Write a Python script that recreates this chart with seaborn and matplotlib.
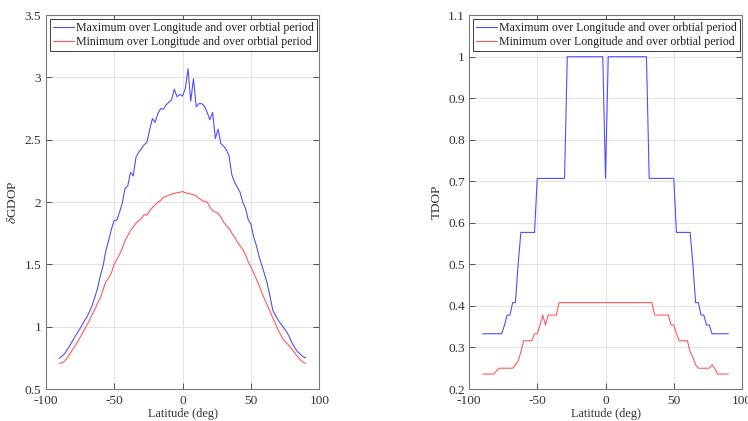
import numpy as np
import pandas as pd
import matplotlib
matplotlib.use("Agg")
import matplotlib.pyplot as plt
import seaborn as sns

# Latitude grid (deg), 2-degree spacing from -90 to 90
latitude = list(range(-90, 91, 2))

# delta-GDOP: maximum / minimum over longitude and orbital period
dgdop_max = [
    0.746, 0.765, 0.785, 0.82, 0.855, 0.893, 0.93, 0.965, 1.00, 1.04,
    1.075, 1.12, 1.17, 1.24, 1.31, 1.41, 1.49, 1.61, 1.69, 1.78,
    1.85, 1.855, 1.92, 1.99, 2.11, 2.13, 2.24, 2.21, 2.36, 2.40,
    2.43, 2.46, 2.48, 2.58, 2.67, 2.64, 2.71, 2.75, 2.745, 2.78,
    2.80, 2.82, 2.906, 2.845, 2.865, 2.85, 2.91, 3.07, 2.81, 2.99,
    2.765, 2.79, 2.79, 2.77, 2.72, 2.66, 2.72, 2.51, 2.585, 2.47,
    2.45, 2.42, 2.37, 2.22, 2.16, 2.12, 2.08, 2.00, 1.95, 1.86,
    1.82, 1.72, 1.65, 1.56, 1.49, 1.42, 1.34, 1.24, 1.13, 1.09,
    1.05, 1.02, 0.99, 0.96, 0.92, 0.87, 0.83, 0.80, 0.78, 0.76,
    0.75,
]
dgdop_min = [
    0.706, 0.71, 0.725, 0.755, 0.786, 0.82, 0.855, 0.89, 0.93, 0.97,
    1.01, 1.05, 1.10, 1.14, 1.19, 1.23, 1.30, 1.36, 1.39, 1.43,
    1.50, 1.54, 1.58, 1.63, 1.69, 1.73, 1.77, 1.80, 1.83, 1.85,
    1.87, 1.90, 1.895, 1.93, 1.955, 1.98, 2.00, 2.01, 2.04, 2.045,
    2.055, 2.064, 2.07, 2.075, 2.078, 2.085, 2.075, 2.07, 2.065, 2.058,
    2.05, 2.03, 2.016, 2.005, 2.0, 1.96, 1.93, 1.92, 1.91, 1.88,
    1.84, 1.81, 1.79, 1.75, 1.72, 1.68, 1.65, 1.62, 1.58, 1.52,
    1.48, 1.43, 1.38, 1.33, 1.27, 1.22, 1.17, 1.12, 1.07, 1.02,
    0.97, 0.93, 0.89, 0.87, 0.845, 0.82, 0.79, 0.76, 0.735, 0.715,
    0.706,
]

# TDOP: maximum / minimum over longitude and orbital period
tdop_max = [
    0.333, 0.333, 0.333, 0.333, 0.333, 0.333, 0.333, 0.333, 0.354, 0.378,
    0.378, 0.408, 0.408, 0.500, 0.577, 0.577, 0.577, 0.577, 0.577, 0.577,
    0.707, 0.707, 0.707, 0.707, 0.707, 0.707, 0.707, 0.707, 0.707, 0.707,
    0.707, 1.0, 1.0, 1.0, 1.0, 1.0, 1.0, 1.0, 1.0, 1.0,
    1.0, 1.0, 1.0, 1.0, 1.0, 0.707, 1.0, 1.0, 1.0, 1.0,
    1.0, 1.0, 1.0, 1.0, 1.0, 1.0, 1.0, 1.0, 1.0, 1.0,
    1.0, 0.707, 0.707, 0.707, 0.707, 0.707, 0.707, 0.707, 0.707, 0.707,
    0.707, 0.577, 0.577, 0.577, 0.577, 0.577, 0.577, 0.500, 0.408, 0.408,
    0.378, 0.378, 0.354, 0.354, 0.333, 0.333, 0.333, 0.333, 0.333, 0.333,
    0.333,
]
tdop_min = [
    0.236, 0.236, 0.236, 0.236, 0.236, 0.243, 0.25, 0.25, 0.25, 0.25,
    0.25, 0.25, 0.258, 0.267, 0.289, 0.316, 0.316, 0.316, 0.316, 0.333,
    0.333, 0.354, 0.378, 0.354, 0.378, 0.378, 0.378, 0.378, 0.408, 0.408,
    0.408, 0.408, 0.408, 0.408, 0.408, 0.408, 0.408, 0.408, 0.408, 0.408,
    0.408, 0.408, 0.408, 0.408, 0.408, 0.408, 0.408, 0.408, 0.408, 0.408,
    0.408, 0.408, 0.408, 0.408, 0.408, 0.408, 0.408, 0.408, 0.408, 0.408,
    0.408, 0.408, 0.408, 0.378, 0.378, 0.378, 0.378, 0.378, 0.378, 0.354,
    0.354, 0.333, 0.316, 0.316, 0.316, 0.316, 0.289, 0.277, 0.258, 0.25,
    0.25, 0.25, 0.25, 0.25, 0.258, 0.25, 0.236, 0.236, 0.236, 0.236,
    0.236,
]

label_max = "Maximum over Longitude and over orbtial period"
label_min = "Minimum over Longitude and over orbtial period"

sns.set_theme(style="ticks")
plt.rcParams["font.family"] = ["Liberation Serif", "DejaVu Serif"]
plt.rcParams["mathtext.fontset"] = "stix"
plt.rcParams["font.size"] = 9

blue = "#4f4fff"
red = "#ff5a5a"


def long_frame(y_max, y_min):
    return pd.DataFrame({
        "Latitude": latitude * 2,
        "value": list(y_max) + list(y_min),
        "series": [label_max] * len(latitude) + [label_min] * len(latitude),
    })


def style_axes(ax, ylim, yticks, ylabel):
    ax.set_xlim(-100, 100)
    ax.set_ylim(*ylim)
    ax.set_xticks([-100, -50, 0, 50, 100])
    ax.set_xticklabels(["-100", "-50", "0", "50", "100"])
    ax.set_yticks(yticks)
    ax.set_yticklabels([("%g" % t) for t in yticks])
    ax.grid(True, color="#e3e3e3", linewidth=0.7)
    ax.set_axisbelow(True)
    ax.tick_params(direction="in", length=4, width=0.6, colors="#3a3a3a",
                   top=True, right=True, labelsize=9.6, labelcolor="#333333")
    ax.tick_params(axis="x", pad=4)
    ax.tick_params(axis="y", pad=3)
    for s in ax.spines.values():
        s.set_color("#7a7a7a")
        s.set_linewidth(0.8)
        s.set_visible(True)
    ax.set_xlabel("Latitude (deg)", fontsize=8.8, color="#333333", labelpad=1)
    ax.set_ylabel(ylabel, fontsize=9.5, color="#333333", labelpad=4)
    leg = ax.legend(loc="upper left", frameon=True, fancybox=False,
                    fontsize=8.6, borderpad=0.25, labelspacing=0.15,
                    handlelength=1.75, handletextpad=0.2, borderaxespad=0.35)
    leg.get_frame().set_edgecolor("#3a3a3a")
    leg.get_frame().set_linewidth(0.7)
    leg.get_frame().set_alpha(1.0)
    for t in leg.get_texts():
        t.set_color("#222222")


fig = plt.figure(figsize=(7.48, 4.21), dpi=100)
ax1 = fig.add_axes([0.061, 0.076, 0.366, 0.888])
ax2 = fig.add_axes([0.627, 0.076, 0.365, 0.888])

pal = {label_max: blue, label_min: red}

sns.lineplot(data=long_frame(dgdop_max, dgdop_min), x="Latitude", y="value",
             hue="series", palette=pal, linewidth=0.8, ax=ax1)
style_axes(ax1, (0.5, 3.5), [0.5, 1, 1.5, 2, 2.5, 3, 3.5], r"$\delta$GDOP")

sns.lineplot(data=long_frame(tdop_max, tdop_min), x="Latitude", y="value",
             hue="series", palette=pal, linewidth=0.8, ax=ax2)
style_axes(ax2, (0.2, 1.1), [0.2, 0.3, 0.4, 0.5, 0.6, 0.7, 0.8, 0.9, 1.0, 1.1], "TDOP")

fig.savefig("out.png", dpi=100)
